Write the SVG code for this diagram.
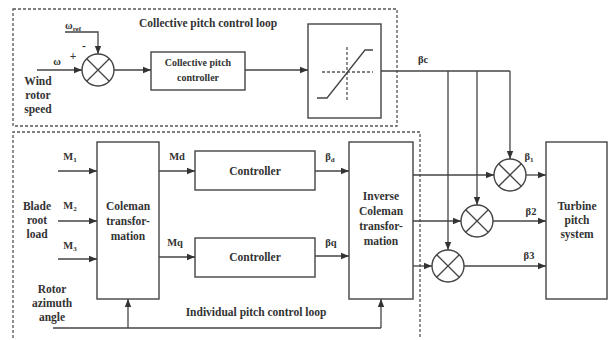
<svg xmlns="http://www.w3.org/2000/svg" width="611" height="340" viewBox="0 0 611 340">
<defs>
<marker id="ah" viewBox="0 0 10 10" refX="10" refY="5" markerWidth="8" markerHeight="8" markerUnits="userSpaceOnUse" orient="auto">
<path d="M0,1 L10,5 L0,9 z" fill="#333"/>
</marker>
</defs>
<style>
text{font-family:"Liberation Serif","Times New Roman",serif;font-weight:bold;font-size:11.5px;fill:#333;text-anchor:middle}
.box{fill:#fff;stroke:#444;stroke-width:1.4}
.sum{fill:#fff;stroke:#444;stroke-width:1.4}
.ln{fill:none;stroke:#444;stroke-width:1.3}
.ar{fill:none;stroke:#444;stroke-width:1.3;marker-end:url(#ah)}
.dash{fill:none;stroke:#555;stroke-width:1.3;stroke-dasharray:3,2}
.sm{font-size:10px}
.lb{font-size:10.5px}
</style>
<rect width="611" height="340" fill="#fff"/>

<g id="loops">
<rect class="dash" x="13" y="9" width="384" height="117"/>
<path class="dash" d="M13,338 L13,132 L420,132 L420,338"/>
<text x="208" y="27">Collective pitch control loop</text>
<text x="256" y="316">Individual pitch control loop</text>
</g>

<g id="labels-in">
<text x="38" y="85">Wind</text>
<text x="38" y="99">rotor</text>
<text x="38" y="113">speed</text>
<text x="37" y="210">Blade</text>
<text x="37" y="224">root</text>
<text x="37" y="238">load</text>
<text x="52" y="293">Rotor</text>
<text x="52" y="307">azimuth</text>
<text x="52" y="321">angle</text>
</g>

<g id="sum0">
<circle class="sum" cx="98" cy="70" r="16"/>
<path class="ln" d="M86.7,58.7 L109.3,81.3 M109.3,58.7 L86.7,81.3"/>
<text x="73" y="60">+</text>
<text x="84" y="50">-</text>
</g>

<g id="cpc">
<rect class="box" x="151" y="52" width="94" height="38"/>
<text class="sm" x="198" y="66">Collective pitch</text>
<text class="sm" x="198" y="81">controller</text>
</g>

<g id="sat">
<rect class="box" x="308" y="24" width="73" height="94"/>
<path class="dash" d="M347,47 L347,101 M322,72 L373,72" stroke-dasharray="5,3"/>
<path class="ln" d="M317,98 L327,98 L365,50 L373,50"/>
</g>

<g id="coleman">
<rect class="box" x="97" y="142" width="62" height="157"/>
<text x="128" y="210">Coleman</text>
<text x="128" y="225">transfor-</text>
<text x="128" y="240">mation</text>
</g>

<g id="ctrl-d">
<rect class="box" x="195" y="151" width="120" height="39"/>
<text x="255" y="175">Controller</text>
</g>

<g id="ctrl-q">
<rect class="box" x="195" y="238" width="120" height="39"/>
<text x="255" y="261">Controller</text>
</g>

<g id="inv">
<rect class="box" x="349" y="142" width="64" height="157"/>
<text x="381" y="200">Inverse</text>
<text x="381" y="215">Coleman</text>
<text x="381" y="230">transfor-</text>
<text x="381" y="245">mation</text>
</g>

<g id="sum1">
<circle class="sum" cx="510" cy="175" r="16"/>
<path class="ln" d="M498.7,163.7 L521.3,186.3 M521.3,163.7 L498.7,186.3"/>
</g>
<g id="sum2">
<circle class="sum" cx="477" cy="221" r="16"/>
<path class="ln" d="M465.7,209.7 L488.3,232.3 M488.3,209.7 L465.7,232.3"/>
</g>
<g id="sum3">
<circle class="sum" cx="448" cy="266" r="16"/>
<path class="ln" d="M436.7,254.7 L459.3,277.3 M459.3,254.7 L436.7,277.3"/>
</g>

<g id="turbine">
<rect class="box" x="546" y="142" width="61" height="157"/>
<text x="577" y="210">Turbine</text>
<text x="577" y="224">pitch</text>
<text x="577" y="238">system</text>
</g>

<g id="connectors">
<path class="ar" d="M37,70 L82,70"/>
<path class="ar" d="M65,32 L98,32 L98,54"/>
<path class="ar" d="M114,70 L151,70"/>
<path class="ar" d="M245,70 L308,70"/>
<path class="ln" d="M381,71 L510,71"/>
<path class="ar" d="M510,71 L510,159"/>
<path class="ar" d="M477,71 L477,205"/>
<path class="ar" d="M448,71 L448,250"/>
<path class="ar" d="M58,171 L97,171"/>
<path class="ar" d="M58,221 L97,221"/>
<path class="ar" d="M58,259 L97,259"/>
<path class="ar" d="M159,171 L195,171"/>
<path class="ar" d="M159,257 L195,257"/>
<path class="ar" d="M315,171 L349,171"/>
<path class="ar" d="M315,256 L349,256"/>
<path class="ar" d="M413,175 L494,175"/>
<path class="ar" d="M413,221 L461,221"/>
<path class="ar" d="M413,266 L432,266"/>
<path class="ar" d="M526,175 L546,175"/>
<path class="ar" d="M493,221 L546,221"/>
<path class="ar" d="M464,266 L546,266"/>
<path class="ln" d="M53,328 L381,328"/>
<path class="ar" d="M128,328 L128,299"/>
<path class="ar" d="M381,328 L381,299"/>
</g>

<g id="signal-labels">
<text class="lb" x="73" y="29">ω<tspan font-size="7" dy="2">ref</tspan></text>
<text class="lb" x="57" y="65">ω</text>
<text class="lb" x="423" y="63">βc</text>
<text class="lb" x="70" y="160">M<tspan font-size="7" dy="2">1</tspan></text>
<text class="lb" x="70" y="209">M<tspan font-size="7" dy="2">2</tspan></text>
<text class="lb" x="70" y="249">M<tspan font-size="7" dy="2">3</tspan></text>
<text class="lb" x="177" y="160">Md</text>
<text class="lb" x="175" y="246">Mq</text>
<text class="lb" x="330" y="160">β<tspan font-size="7" dy="2">d</tspan></text>
<text class="lb" x="331" y="246">βq</text>
<text class="lb" x="529" y="160">β<tspan font-size="7" dy="2">1</tspan></text>
<text class="lb" x="531" y="215">β2</text>
<text class="lb" x="529" y="259">β3</text>
</g>
</svg>
